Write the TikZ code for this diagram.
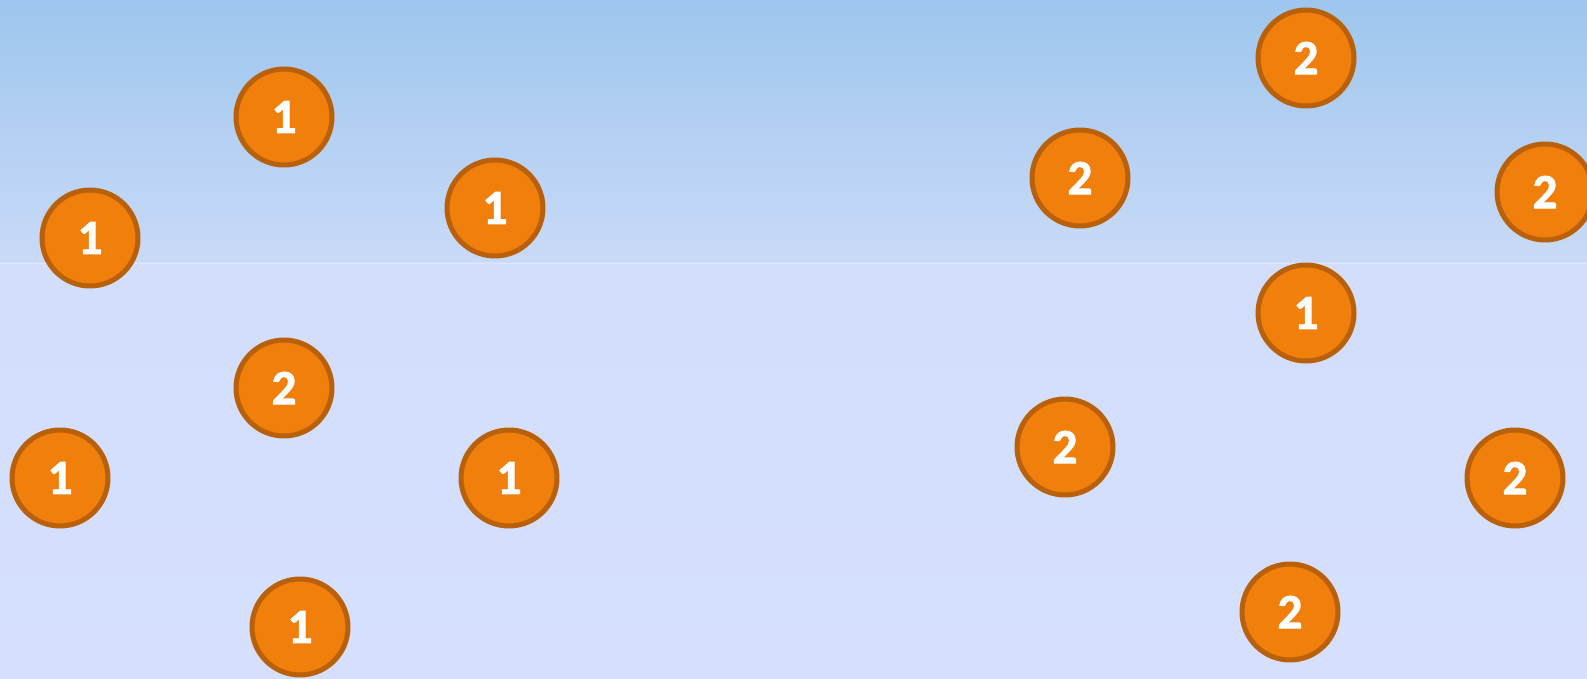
\documentclass[tikz,border=0pt]{standalone}
\usepackage{fontspec}
\newfontfamily\ballfont{Carlito-Bold.ttf}[FakeBold=1.6]
\usepackage{tikz}
\definecolor{skytop}{HTML}{9EC6EE}
\definecolor{skymid}{HTML}{C9DAF8}
\definecolor{floortop}{HTML}{D2DEFC}
\definecolor{floorbot}{HTML}{D6E0FE}
\definecolor{seam}{HTML}{DEE7FC}
\definecolor{ballfill}{HTML}{F07F0C}
\definecolor{balledge}{HTML}{B8600A}

\begin{document}
\begin{tikzpicture}[
    x=0.02cm, y=-0.02cm,
    ball/.style={circle, fill=ballfill, draw=balledge, line width=0.1cm,
      minimum size=1.92cm, inner sep=0pt, text=white,
      font=\ballfont\fontsize{28}{28}\selectfont},
  ]
  % --- Background ---
  \useasboundingbox (0,0) rectangle (1587,679);
  \shade[top color=skytop, bottom color=skymid] (0,0) rectangle (1587,262);
  \shade[top color=floortop, bottom color=floorbot] (0,262) rectangle (1587,679);
  \draw[seam, line width=0.02cm] (0,263) -- (1587,263);

  % --- Left group ---
  \foreach \x/\y/\lab/\n in {284/117/1/a, 90/238/1/b, 495/208/1/c, 284/388/2/d,
                             60/478/1/e, 509/478/1/f, 300/627/1/g} {
    \node[ball] (left-\n) at (\x,\y) {\raisebox{-2.5pt}{\lab}};
  }

  % --- Right group ---
  \foreach \x/\y/\lab/\n in {1306/58/2/a, 1080/178/2/b, 1545/192/2/c, 1306/313/1/d,
                             1065/447/2/e, 1515/478/2/f, 1290/612/2/g} {
    \node[ball] (right-\n) at (\x,\y) {\raisebox{-2.5pt}{\lab}};
  }
\end{tikzpicture}
\end{document}
